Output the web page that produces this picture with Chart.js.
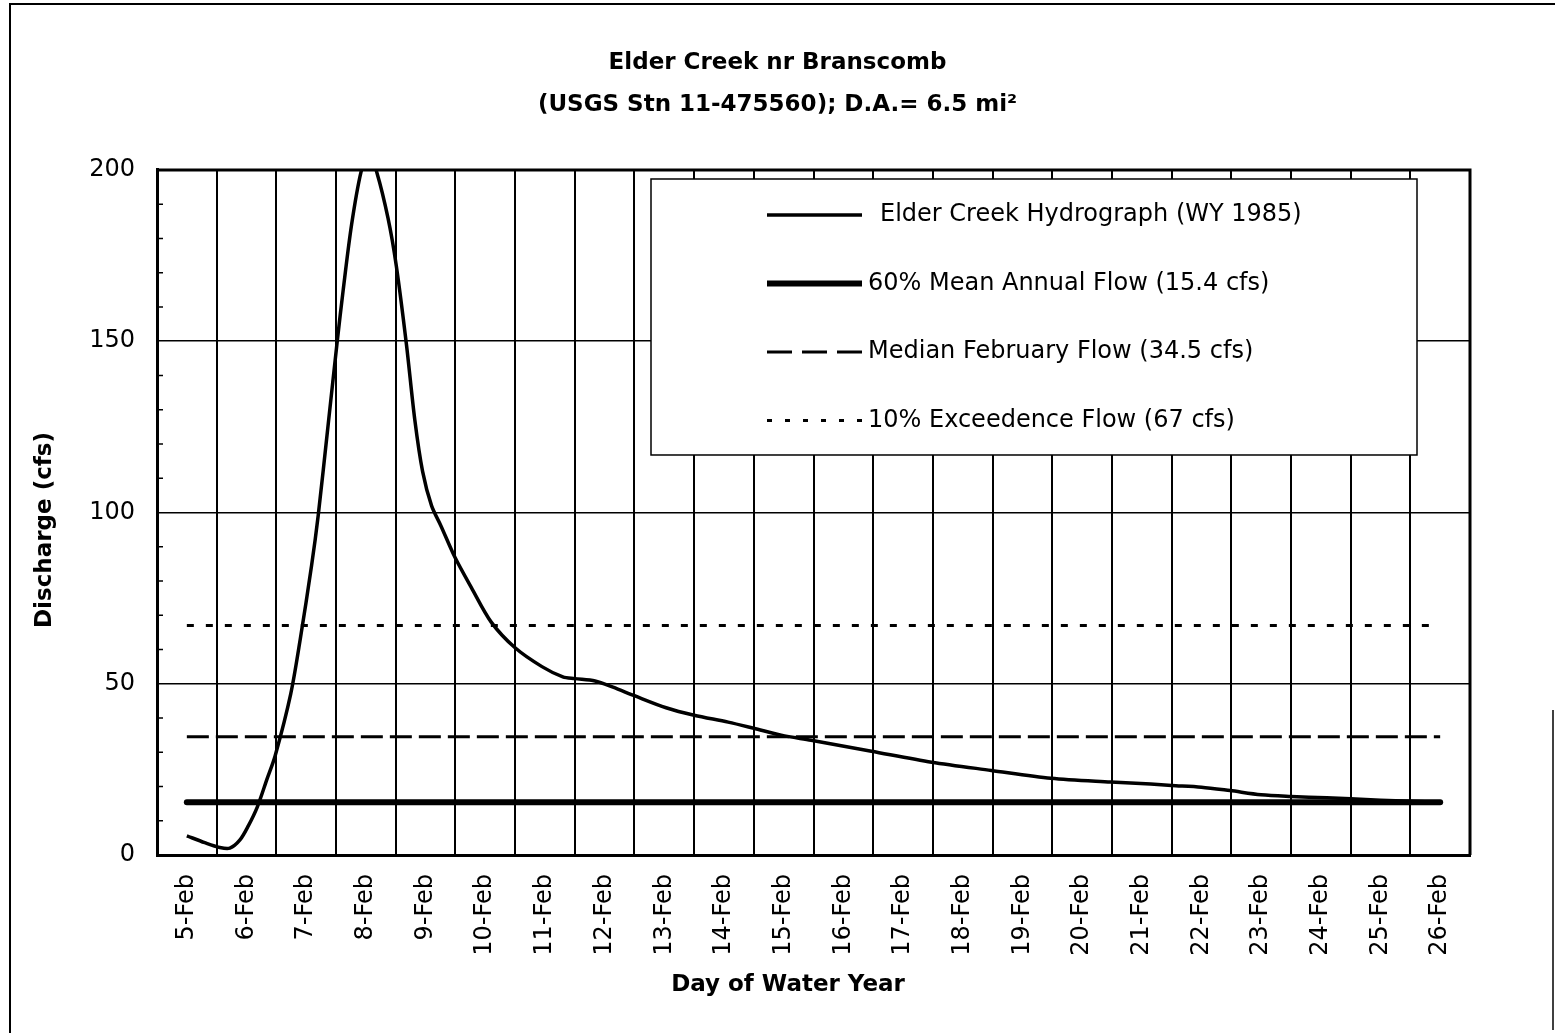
<!DOCTYPE html>
<html>
<head>
<meta charset="utf-8">
<script src="https://cdn.jsdelivr.net/npm/chart.js@4.4.1/dist/chart.umd.min.js"></script>
<style>
  html, body { margin: 0; padding: 0; background: #fff; }
  #wrap { width: 1555px; height: 1033px; position: relative; }
</style>
</head>
<body>
<div id="wrap"><canvas id="myChart"></canvas></div>
<script>
// Hydrograph: day of February and discharge (cfs)
let days = [5.0, 5.3, 5.55, 5.72, 5.89, 6.03, 6.18, 6.34, 6.48, 6.74, 6.9, 7.09, 7.2, 7.37, 7.52, 7.62, 7.76,
            7.92, 8.05, 8.18, 8.37, 8.51, 8.68, 8.82, 8.95, 9.1, 9.26, 9.49, 9.77, 10.1, 10.5, 10.95, 11.3,
            11.5, 11.84, 12.14, 12.5, 13.03, 13.5, 14.07, 14.5, 14.96, 15.46, 16.47, 17.48, 18.48, 19.48,
            20.48, 21.15, 21.5, 22.0, 22.48, 23.0, 23.5, 24.1, 24.5, 25.0, 25.5, 26.0];
let discharge = [5.6, 3.6, 2.2, 2.0, 4.4, 8.5, 14, 22, 29, 47, 63, 84.5, 99, 126, 150, 165, 184,
                 199.5, 205, 199.5, 186, 172, 149, 127, 112, 102, 96, 87, 78, 68, 60.5, 55, 52,
                 51.5, 50.8, 49, 46.5, 43, 40.8, 38.8, 37, 35, 33.5, 30.3, 27.1, 24.7, 22.4,
                 21.3, 20.7, 20.3, 19.8, 18.8, 17.6, 17.1, 16.7, 16.4, 16.0, 15.7, 15.4];

// Reference flows (cfs)
let meanAnnual60 = 15.4;
let medianFeb = 34.5;
let exceed10 = 67;

let firstDay = 5;
let lastDay = 26;
let yTicks = [0, 50, 100, 150, 200];

let titleLines = ['Elder Creek nr Branscomb', '(USGS Stn 11-475560); D.A.= 6.5 mi\u00B2'];
let xTitle = 'Day of Water Year';
let yTitle = 'Discharge (cfs)';

// Frame, plot border, minor ticks, axis titles and the boxed legend
const decorPlugin = {
    id: 'decor',
    beforeDraw(chart) {
        let c = chart.ctx;
        c.save();
        c.fillStyle = '#fff';
        c.fillRect(0, 0, chart.width, chart.height);
        c.restore();
    },
    afterDatasetsDraw(chart) {
        let c = chart.ctx;
        let a = chart.chartArea;
        c.save();
        c.strokeStyle = '#000';
        c.lineWidth = 3;
        c.beginPath();
        c.moveTo(a.left, a.top);
        c.lineTo(a.right, a.top);
        c.lineTo(a.right, a.bottom);
        c.stroke();

        // small inside ticks every 10 cfs
        c.lineWidth = 1.5;
        for (let v = 10; v < 200; v += 10) {
            if (v % 50 === 0) continue;
            let y = chart.scales.y.getPixelForValue(v);
            c.beginPath();
            c.moveTo(a.left, y);
            c.lineTo(a.left + 6, y);
            c.stroke();
        }

        // axis titles
        c.fillStyle = '#000';
        c.font = 'bold 23px "DejaVu Sans"';
        c.textAlign = 'center';
        c.textBaseline = 'middle';
        c.fillText(xTitle, a.left + 631, 985);
        c.save();
        c.translate(45, 530);
        c.rotate(-Math.PI / 2);
        c.fillText(yTitle, 0, 0);
        c.restore();

        // legend box
        let bx = a.left + 494, by = a.top + 9, bw = 766, bh = 276;
        c.fillStyle = '#fff';
        c.fillRect(bx, by, bw, bh);
        c.lineWidth = 1.5;
        c.strokeRect(bx, by, bw, bh);
        c.font = '24px "DejaVu Sans"';
        c.textAlign = 'left';
        c.textBaseline = 'middle';
        c.fillStyle = '#000';
        chart.data.datasets.forEach((ds, i) => {
            let ry = by + 36 + i * 68.5;
            c.lineWidth = ds.borderWidth;
            c.setLineDash(ds.legendDash || ds.borderDash || []);
            c.beginPath();
            c.moveTo(bx + 116, ry);
            c.lineTo(bx + 211, ry);
            c.stroke();
            c.setLineDash([]);
            c.fillText(ds.label, bx + (i === 0 ? 229 : 217), ry);
        });

        // outer frame of the figure
        c.lineWidth = 2;
        c.beginPath();
        c.moveTo(10, chart.height);
        c.lineTo(10, 4);
        c.lineTo(chart.width, 4);
        c.stroke();
        c.lineWidth = 1.5;
        c.beginPath();
        c.moveTo(1553, 710);
        c.lineTo(1553, 1030);
        c.stroke();
        c.restore();
    }
};

let ctx = document.getElementById('myChart').getContext('2d');
let myChart = new Chart(ctx, {
    type: 'line',
    data: {
        datasets: [{
            label: 'Elder Creek Hydrograph (WY 1985)',
            data: days.map((d, i) => ({ x: d, y: discharge[i] })),
            borderColor: '#000',
            borderWidth: 3.5,
            pointRadius: 0,
            tension: 0.3
        }, {
            label: '60% Mean Annual Flow (15.4 cfs)',
            data: [{ x: firstDay, y: meanAnnual60 }, { x: lastDay, y: meanAnnual60 }],
            borderColor: '#000',
            borderWidth: 6,
            borderCapStyle: 'round',
            pointRadius: 0
        }, {
            label: 'Median February Flow (34.5 cfs)',
            data: [{ x: firstDay, y: medianFeb }, { x: lastDay, y: medianFeb }],
            borderColor: '#000',
            borderWidth: 3,
            borderDash: [22, 7],
            legendDash: [25, 10],
            pointRadius: 0
        }, {
            label: '10% Exceedence Flow (67 cfs)',
            data: [{ x: firstDay, y: exceed10 }, { x: lastDay, y: exceed10 }],
            borderColor: '#000',
            borderWidth: 3,
            borderDash: [7, 12],
            legendDash: [5, 13],
            pointRadius: 0
        }]
    },
    options: {
        responsive: true,
        maintainAspectRatio: false,
        animation: false,
        layout: { padding: 0 },
        plugins: {
            legend: { display: false },
            tooltip: { enabled: false },
            title: {
                display: true,
                text: titleLines,
                color: '#000',
                font: { family: 'DejaVu Sans', size: 23, weight: 'bold', lineHeight: 1.826 },
                padding: { top: 42, bottom: 44 }
            }
        },
        scales: {
            x: {
                type: 'linear',
                min: firstDay - 0.5,
                max: lastDay + 0.5,
                afterFit: s => { s.height = 178; },
                border: { color: '#000', width: 3 },
                grid: {
                    color: c => (c.tick && c.tick.value % 1 !== 0) ? '#000' : 'rgba(0,0,0,0)',
                    lineWidth: 2,
                    drawTicks: false
                },
                ticks: {
                    stepSize: 0.5,
                    autoSkip: false,
                    minRotation: 90,
                    maxRotation: 90,
                    padding: 19,
                    color: '#000',
                    font: { family: 'DejaVu Sans', size: 24 },
                    callback: v => v % 1 === 0 ? v + '-Feb' : ''
                }
            },
            y: {
                min: yTicks[0],
                max: yTicks[yTicks.length - 1],
                afterFit: s => { s.width = 157; },
                border: { color: '#000', width: 3 },
                grid: { color: '#000', lineWidth: 1.5, drawTicks: false },
                ticks: {
                    stepSize: 50,
                    padding: 22,
                    color: '#000',
                    font: { family: 'DejaVu Sans', size: 24 }
                }
            },
            // empty right-hand strip so the plot ends where the original does
            yRight: {
                position: 'right',
                afterFit: s => { s.width = 85; },
                grid: { drawOnChartArea: false, drawTicks: false },
                border: { display: false },
                ticks: { display: false }
            }
        }
    },
    plugins: [decorPlugin]
});
</script>
</body>
</html>
